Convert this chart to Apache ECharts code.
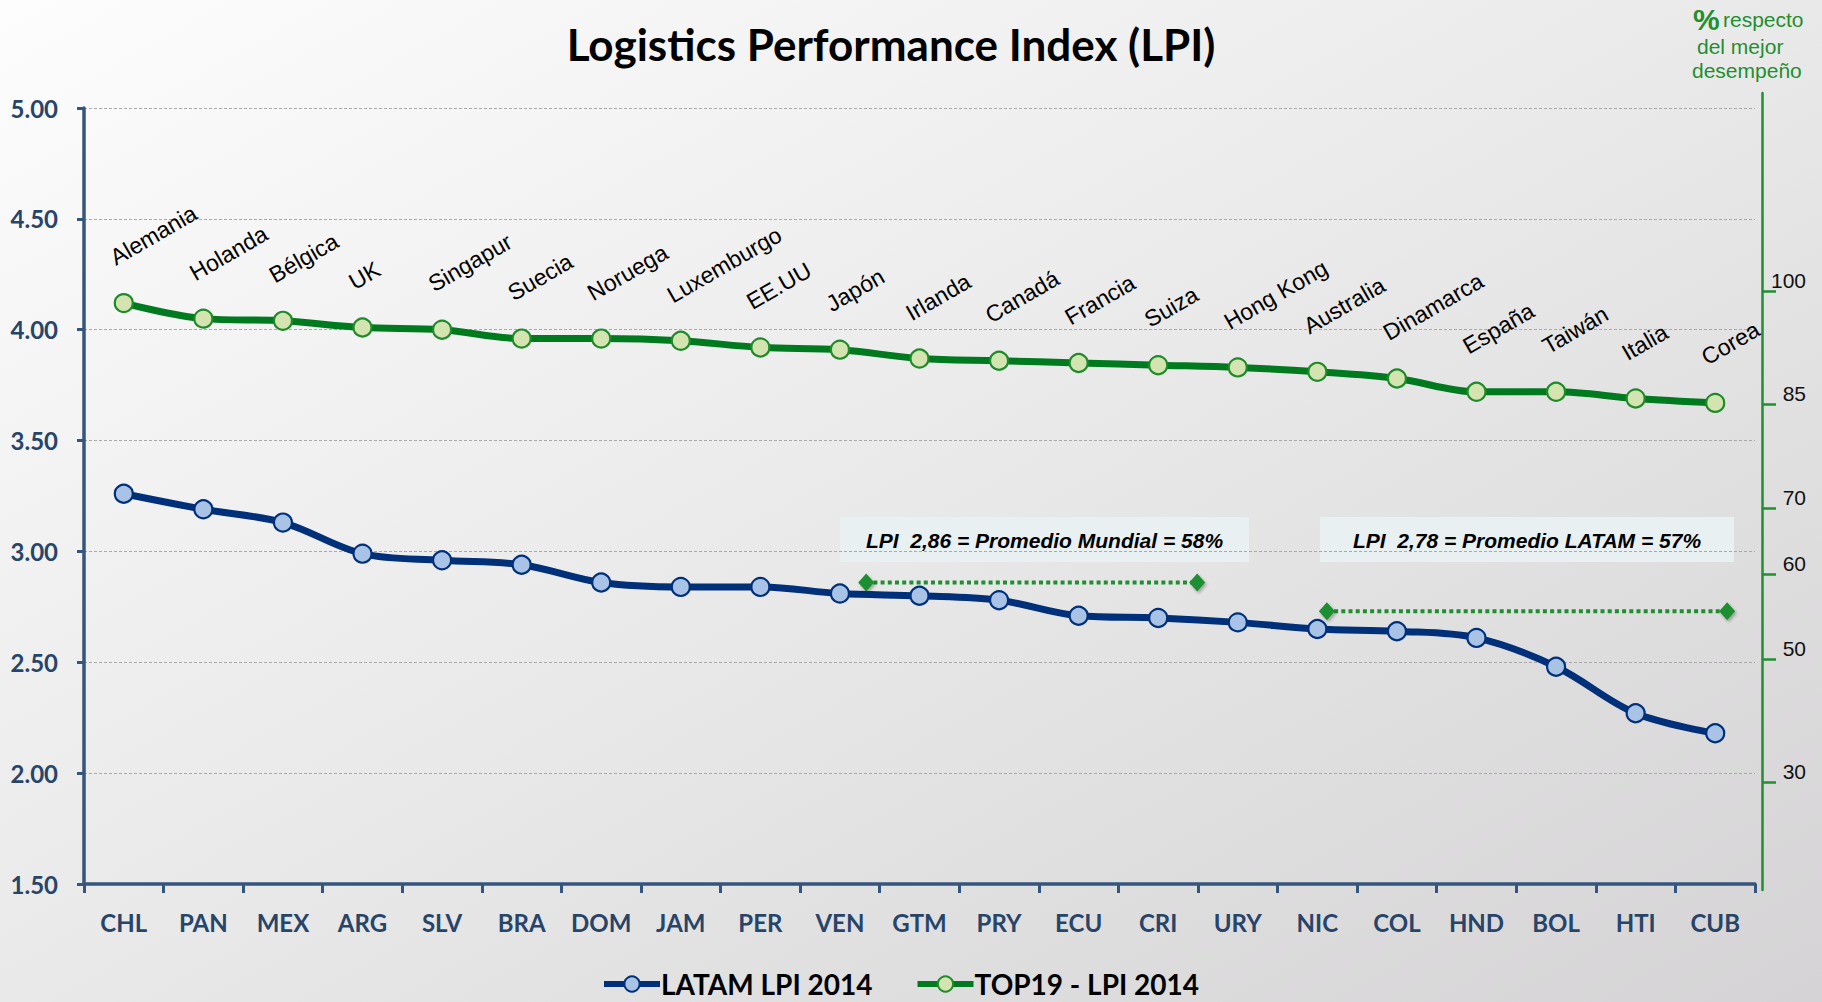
<!DOCTYPE html>
<html>
<head>
<meta charset="utf-8">
<script src="https://cdn.jsdelivr.net/npm/echarts@6/dist/echarts.min.js"></script>
<style>
html,body{margin:0;padding:0;}
#chart{width:1822px;height:1002px;}
</style>
</head>
<body>
<div id="chart"></div>
<script>
// ---- data ----
const categories = ['CHL','PAN','MEX','ARG','SLV','BRA','DOM','JAM','PER','VEN','GTM','PRY','ECU','CRI','URY','NIC','COL','HND','BOL','HTI','CUB'];
const latamValues = [3.26,3.19,3.13,2.99,2.96,2.94,2.86,2.84,2.84,2.81,2.80,2.78,2.71,2.70,2.68,2.65,2.64,2.61,2.48,2.27,2.18];
const topNames = ['Alemania','Holanda','Bélgica','UK','Singapur','Suecia','Noruega','Luxemburgo','EE.UU','Japón','Irlanda','Canadá','Francia','Suiza','Hong Kong','Australia','Dinamarca','España','Taiwán','Italia','Corea'];
const topValues = [4.12,4.05,4.04,4.01,4.00,3.96,3.96,3.95,3.92,3.91,3.87,3.86,3.85,3.84,3.83,3.81,3.78,3.72,3.72,3.69,3.67];
// right axis: % labels and the LPI level at which each one is drawn
const rightTickLabels = ['100','85','70','60','50','30'];
const rightTickLevels = [4.175,3.665,3.196,2.898,2.515,1.960];
// average reference lines: [category position, LPI]
const mundialLine = [[9.33,2.86],[13.49,2.86]];
const latamLine = [[15.12,2.73],[20.15,2.73]];
const boxTexts = ['LPI  2,86 = Promedio Mundial = 58%','LPI  2,78 = Promedio LATAM = 57%'];

const chart = echarts.init(document.getElementById('chart'), null, {renderer:'svg'});
const axisBlue = '#34557c';
const labelBlue = '#274469';
const green = '#1f8f30';

function avgSeries(name, data){
  return {name:name, type:'line', xAxisIndex:1, yAxisIndex:0, data:data,
    symbol:'diamond', symbolSize:[16,18], showSymbol:true, silent:true,
    lineStyle:{color:green, width:4, type:[4,3.2]},
    itemStyle:{color:green, shadowColor:'rgba(0,0,0,0.3)', shadowBlur:3, shadowOffsetX:1.5, shadowOffsetY:2},
    z:4};
}

const option = {
  backgroundColor: new echarts.graphic.LinearGradient(0,0,1,1,[
    {offset:0,color:'#fdfdfd'},{offset:0.5,color:'#e9e9e9'},{offset:1,color:'#d5d3d5'}
  ]),
  animation:false,
  title:{
    text:'Logistics Performance Index (LPI)',
    left:886, top:17, textAlign:'center',
    textStyle:{fontFamily:'Lato', fontWeight:'bold', fontSize:44, color:'#000'}
  },
  legend:{
    data:['LATAM LPI 2014','TOP19 - LPI 2014'],
    left:596, top:965, itemWidth:56, itemHeight:19, itemGap:42,
    lineStyle:{width:6},
    textStyle:{fontFamily:'Lato', fontWeight:'bold', fontSize:28, color:'#000', padding:[0,0,0,-4]}
  },
  grid:[
    {left:84, right:67, top:108, bottom:118},
    {left:84, right:60, top:93, bottom:112}
  ],
  xAxis:[
    {type:'category', data:categories, gridIndex:0, boundaryGap:true,
     axisLine:{onZero:false, lineStyle:{color:axisBlue, width:3.5}},
     axisTick:{show:true, interval:0, length:9, lineStyle:{color:axisBlue, width:3}},
     axisLabel:{interval:0, margin:26, fontFamily:'Lato', fontWeight:'bold', fontSize:24, color:labelBlue},
     splitLine:{show:false}},
    {type:'value', gridIndex:0, min:-0.5, max:20.5, show:false},
    {type:'value', gridIndex:1, min:0, max:1, show:false}
  ],
  yAxis:[
    {type:'value', gridIndex:0, min:1.5, max:5, interval:0.5,
     axisLine:{show:true, onZero:false, lineStyle:{color:axisBlue, width:3.5}},
     axisTick:{show:true, length:7, lineStyle:{color:axisBlue, width:3}},
     axisLabel:{margin:26, fontFamily:'Lato', fontWeight:'bold', fontSize:24, color:labelBlue,
       formatter:v=>v.toFixed(2)},
     splitLine:{show:true, lineStyle:{color:'#a9a9a9', type:[3,2], width:1}}},
    {type:'value', gridIndex:1, position:'right', min:1.4727, max:5.0677,
     axisLine:{show:true, onZero:false, lineStyle:{color:green, width:2.5}},
     axisTick:{show:true, length:14, customValues:rightTickLevels, lineStyle:{color:green, width:2.5}},
     axisLabel:{customValues:rightTickLevels, align:'right', verticalAlign:'bottom', margin:44,
       fontFamily:'Liberation Sans', fontSize:21, color:'#111',
       formatter:v=>{let best=0;rightTickLevels.forEach((t,i)=>{if(Math.abs(t-v)<Math.abs(rightTickLevels[best]-v))best=i;});return rightTickLabels[best];}},
     splitLine:{show:false}}
  ],
  series:[
    {name:'LATAM LPI 2014', type:'line', xAxisIndex:0, yAxisIndex:0, data:latamValues, smooth:0.35,
     symbol:'circle', symbolSize:18,
     lineStyle:{color:'#00307a', width:7},
     itemStyle:{color:'#a8c3e5', borderColor:'#00307a', borderWidth:2.2},
     z:5},
    {name:'TOP19 - LPI 2014', type:'line', xAxisIndex:0, yAxisIndex:0, data:topValues, smooth:0.35,
     symbol:'circle', symbolSize:18,
     lineStyle:{color:'#007a1e', width:7},
     itemStyle:{color:'#d3e4b1', borderColor:'#1f8a2a', borderWidth:2.2},
     label:{show:true, position:[4,-24], rotate:30, align:'left', verticalAlign:'bottom',
       fontFamily:'Liberation Sans', fontSize:23, color:'#000',
       formatter:p=>topNames[p.dataIndex]},
     z:5},
    avgSeries('Promedio Mundial', mundialLine),
    avgSeries('Promedio LATAM', latamLine)
  ],
  graphic:[
    {type:'group', left:840, top:517, children:[
      {type:'rect', shape:{x:0,y:0,width:409,height:45}, style:{fill:'#e9f0f2'}},
      {type:'text', x:204.5, y:23, style:{text:boxTexts[0], align:'center', verticalAlign:'middle',
        font:'italic bold 21px "Liberation Sans", Arial, sans-serif', fill:'#000'}}
    ]},
    {type:'group', left:1320, top:517, children:[
      {type:'rect', shape:{x:0,y:0,width:414,height:45}, style:{fill:'#e9f0f2'}},
      {type:'text', x:207, y:23, style:{text:boxTexts[1], align:'center', verticalAlign:'middle',
        font:'italic bold 21px "Liberation Sans", Arial, sans-serif', fill:'#000'}}
    ]},
    {type:'text', left:1693, top:4, style:{
      rich:{p:{fontFamily:'Liberation Sans', fontWeight:'bold', fontSize:30, fill:green}, t:{fontFamily:'Liberation Sans', fontSize:21, fill:green}},
      text:'{p|%} {t|respecto}', fill:green}},
    {type:'text', left:1697, top:36, style:{text:'del mejor', font:'21px "Liberation Sans", Arial, sans-serif', fill:green}},
    {type:'text', left:1692, top:60, style:{text:'desempeño', font:'21px "Liberation Sans", Arial, sans-serif', fill:green}}
  ]
};
chart.setOption(option);
</script>
</body>
</html>
